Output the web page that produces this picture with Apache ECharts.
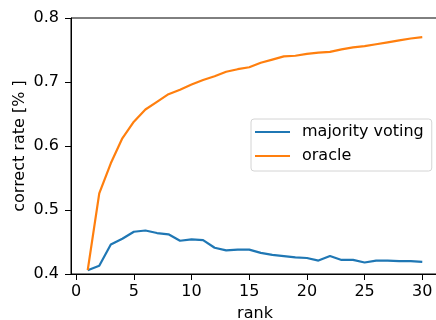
<!DOCTYPE html>
<html>
<head>
<meta charset="utf-8">
<script src="https://cdn.jsdelivr.net/npm/echarts@6/dist/echarts.min.js"></script>
<style>
  html, body {margin: 0; padding: 0; background: #fff;}
  #chart {width: 436px; height: 320px;}
</style>
</head>
<body>
<div id="chart"></div>
<script>
const ranks = [1, 2, 3, 4, 5, 6, 7, 8, 9, 10, 11, 12, 13, 14, 15,
  16, 17, 18, 19, 20, 21, 22, 23, 24, 25, 26, 27, 28, 29, 30];
const majorityVoting = [
  0.406, 0.413, 0.446, 0.455, 0.466, 0.468, 0.464, 0.462, 0.452, 0.454,
  0.453, 0.441, 0.437, 0.438, 0.438, 0.433, 0.430, 0.428, 0.426, 0.425,
  0.421, 0.428, 0.422, 0.422, 0.418, 0.421, 0.421, 0.420, 0.420, 0.419
];
const oracle = [
  0.406, 0.526, 0.573, 0.612, 0.638, 0.657, 0.669, 0.681, 0.688, 0.696,
  0.703, 0.709, 0.716, 0.720, 0.723, 0.730, 0.735, 0.740, 0.741, 0.744,
  0.746, 0.747, 0.751, 0.754, 0.756, 0.759, 0.762, 0.765, 0.768, 0.770
];
const xTicks = [0, 5, 10, 15, 20, 25, 30];

const font = 'DejaVu Sans';
const chart = echarts.init(document.getElementById('chart'));
const pairs = arr => ranks.map((r, i) => [r, arr[i]]);

chart.setOption({
  animation: false,
  color: ['#1f77b4', '#ff7f0e'],
  textStyle: {fontFamily: font},
  grid: {
    left: 71, top: 18, right: -3, bottom: 46,
    containLabel: false,
    outerBoundsMode: 'none',
    show: true, borderColor: '#000', borderWidth: 1
  },
  legend: {
    orient: 'vertical',
    left: 251, top: 119,
    icon: 'rect',
    itemWidth: 35, itemHeight: 2,
    itemGap: 6,
    padding: [4, 8, 6, 4],
    borderColor: '#d4d4d4', borderWidth: 1, borderRadius: 3,
    textStyle: {fontFamily: font, fontSize: 16, color: '#000', lineHeight: 18, padding: [0, 0, 0, 7]},
    data: ['majority voting', 'oracle']
  },
  xAxis: {
    type: 'value',
    min: -0.45, max: 31.45,
    name: 'rank',
    nameLocation: 'middle',
    nameGap: 32,
    nameMoveOverlap: false,
    nameTextStyle: {fontFamily: font, fontSize: 16, color: '#000'},
    axisLine: {show: true, onZero: false, lineStyle: {color: '#000'}},
    axisTick: {show: true, length: 6, customValues: xTicks, lineStyle: {color: '#000'}},
    axisLabel: {customValues: xTicks, fontFamily: font, fontSize: 16, color: '#000', margin: 10},
    splitLine: {show: false}
  },
  yAxis: {
    type: 'value',
    min: 0.4, max: 0.8, interval: 0.1,
    name: 'correct rate [% ]',
    nameLocation: 'middle',
    nameGap: 43,
    nameMoveOverlap: false,
    nameTextStyle: {fontFamily: font, fontSize: 16, color: '#000'},
    axisLine: {show: true, onZero: false, lineStyle: {color: '#000'}},
    axisTick: {show: true, length: 6, lineStyle: {color: '#000'}},
    axisLabel: {
      fontFamily: font, fontSize: 16, color: '#000', margin: 12,
      formatter: v => v.toFixed(1)
    },
    splitLine: {show: false}
  },
  series: [{
    name: 'majority voting',
    type: 'line',
    data: pairs(majorityVoting),
    showSymbol: false,
    lineStyle: {width: 2.2}
  }, {
    name: 'oracle',
    type: 'line',
    data: pairs(oracle),
    showSymbol: false,
    lineStyle: {width: 2.2}
  }]
});
</script>
</body>
</html>
